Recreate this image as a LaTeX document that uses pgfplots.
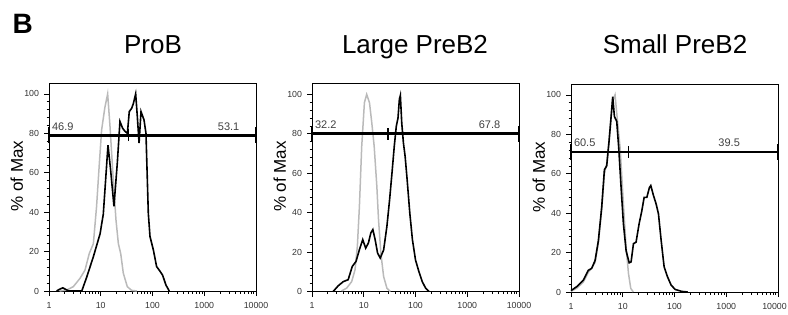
\documentclass[border=0pt]{standalone}
\usepackage{fontspec}
\setmainfont{Liberation Sans}
\usepackage{pgfplots}
\pgfplotsset{compat=1.18}
\pgfplotsset{
  myflow/.style={
    scale only axis, width=207pt, height=208pt,
    anchor=south west,
    xmin=1, xmax=10000, ymin=0, ymax=105.5,
    xtick={1,10,100,1000,10000}, xticklabels={1,10,100,1000,10000},
    minor xtick={2,3,4,5,6,7,8,9,20,30,40,50,60,70,80,90,200,300,400,500,600,700,800,900,2000,3000,4000,5000,6000,7000,8000,9000},
    ytick={0,20,40,60,80,100}, minor y tick num=4,
    tick align=outside, tick pos=left,
    major tick length=5pt, minor tick length=2.5pt,
    axis line style={line width=0.8pt},
    every tick/.style={black, line width=0.6pt},
    tick label style={font=\fontsize{8.8}{10}\selectfont, text=black!80},
    xticklabel style={yshift=-2.5pt},
    yticklabel style={xshift=-1.5pt},
    /pgf/number format/assume math mode=true,
    ylabel={\% of Max},
    ylabel style={font=\fontsize{17}{19}\selectfont, at={(axis description cs:-0.155,0.553)}, anchor=center},
    clip=false,
  },
  myctrl/.style={draw=black!27, line width=1.5pt, no markers},
  mysamp/.style={draw=black, line width=1.6pt, no markers},
  mygate/.style={draw=black, line width=2.6pt, no markers},
  mycap/.style={draw=black, line width=1.8pt, no markers},
  mydiv/.style={draw=black, line width=1.1pt, no markers},
}
\tikzset{myglab/.style={font=\fontsize{11}{13}\selectfont, text=black!75}}
\begin{document}
\begin{tikzpicture}
\useasboundingbox (0,0) rectangle (788pt,-315pt);
\node[anchor=base west, font=\fontsize{28}{32}\selectfont\bfseries] at (9pt,-33.3pt) {B};
\node[anchor=base, font=\fontsize{26}{30}\selectfont] at (153pt,-54pt) {ProB};
\node[anchor=base, font=\fontsize{26}{30}\selectfont] at (415pt,-54pt) {Large PreB2};
\node[anchor=base, font=\fontsize{26}{30}\selectfont] at (675pt,-54pt) {Small PreB2};

% Panel 1: ProB
\begin{semilogxaxis}[myflow, at={(49pt,-291pt)}]
\addplot[myctrl] coordinates {(1.6,0) (2.2,0.5) (2.95,2.2) (3.97,6.4) (4.96,10.6) (6.0,19) (7.2,24) (8.3,42.8) (9.4,64.8) (10.4,81.7) (12.0,93) (13.6,100) (15.1,83.4) (17.5,56) (19.7,36) (21.9,24) (24.3,19) (27.3,9) (32.6,2.2) (39.6,0.3) (50,0)};
\addplot[mysamp] coordinates {(1.4,0) (1.63,1.0) (1.85,1.6) (2.04,1.0) (2.4,0) (4.3,0) (5.35,7) (7.2,17.4) (9.7,29) (11.2,39) (12.4,56) (13.8,74) (15.5,61.5) (18,43) (20.9,65) (23.5,86) (26.4,82.6) (29.4,81) (32.7,80) (35.6,91) (39.6,92.7) (42.6,95) (47.3,100) (50.9,88.5) (55,75) (60,91) (68.5,86.8) (74.8,80) (83,39.4) (89.5,27.6) (104,20.8) (120,12.4) (140,10) (157,8) (182,3) (211,0)};
\addplot[mygate] coordinates {(1,79) (10000,79)};
\addplot[mycap] coordinates {(1,75) (1,83)};
\addplot[mycap] coordinates {(10000,75) (10000,83)};
\addplot[mydiv] coordinates {(34,76) (34,82)};
\node[myglab] at (axis cs:1.85,83.5) {46.9};
\node[myglab] at (axis cs:2960,83.5) {53.1};
\end{semilogxaxis}

% Panel 2: Large PreB2
\begin{semilogxaxis}[myflow, at={(312pt,-291.5pt)}]
\addplot[myctrl] coordinates {(3.73,0.3) (4.67,1.7) (5.84,5) (6.78,11) (7.53,23) (8.24,43) (9.14,73.7) (10.3,95.8) (11.4,100) (12.9,95.8) (14.3,85.6) (15.9,73.7) (17.9,53.4) (19.3,36.4) (21.4,19.5) (24.2,7.6) (28,1.7) (32.6,0)};
\addplot[mysamp] coordinates {(2.56,0) (3.21,2.9) (4.02,5) (5.0,6) (6.0,12.7) (7.1,15.3) (8.2,21) (9.55,26.3) (10.9,22) (12.3,24.6) (13.7,29.7) (15,31.4) (16.6,26.3) (18.5,19.5) (20.8,17) (24.2,21) (28,33) (31.6,46.6) (35.1,60) (38.9,73.7) (42.6,83.9) (45.9,88) (48.8,97.5) (51,99.5) (54.2,85.6) (58.4,75.4) (63,68.6) (68.9,56.8) (77.6,39.8) (87.2,26.3) (100,16) (116,10.2) (135,5) (157,1.7) (182,0)};
\addplot[mygate] coordinates {(1,80.1) (10000,80.1)};
\addplot[mycap] coordinates {(1,76) (1,84)};
\addplot[mycap] coordinates {(10000,76) (10000,84)};
\addplot[mydiv] coordinates {(29.4,77) (29.4,83)};
\node[myglab] at (axis cs:1.85,84.5) {32.2};
\node[myglab] at (axis cs:2700,84.5) {67.8};
\end{semilogxaxis}

% Panel 3: Small PreB2
\begin{semilogxaxis}[myflow, at={(571pt,-292pt)}, xticklabels={1,10,100,1000,\hspace*{-7pt}10000}]
\addplot[myctrl] coordinates {(1,0.3) (1.3,2) (1.73,5) (2.16,10) (2.5,12) (2.92,15) (3.38,25) (3.92,42) (4.42,60) (4.9,65) (5.44,77) (5.9,88) (6.4,97) (7.1,100) (7.7,90) (8.9,73) (10.3,44.6) (11.6,22.8) (12.9,9.4) (14.3,1.8) (16,0)};
\addplot[mysamp] coordinates {(1,0.7) (1.29,2.7) (1.73,6) (2.16,11) (2.51,12) (2.92,16) (3.38,26) (3.92,43) (4.42,62) (4.9,64) (5.44,76.5) (5.86,86.6) (6.4,99) (6.9,89) (7.65,86.6) (8.37,73) (9.29,53) (10.3,34.6) (11.6,21) (13.3,14.8) (14.5,15.3) (16.1,24.5) (18.1,25.3) (20.7,34.6) (23.3,41) (25.9,48) (29.2,48) (32.8,53) (34.8,54) (39.2,49) (44.2,44.6) (49,39.6) (55.2,26.2) (63,12.8) (73.3,7.7) (86,3.5) (103,1.3) (138,0.3) (180,0)};
\addplot[mygate] coordinates {(1,71.1) (10000,71.1)};
\addplot[mycap] coordinates {(1,67) (1,75)};
\addplot[mycap] coordinates {(10000,67) (10000,75)};
\addplot[mydiv] coordinates {(12.9,68) (12.9,74)};
\node[myglab] at (axis cs:1.84,75.8) {60.5};
\node[myglab] at (axis cs:1140,75.8) {39.5};
\end{semilogxaxis}
\end{tikzpicture}
\end{document}
